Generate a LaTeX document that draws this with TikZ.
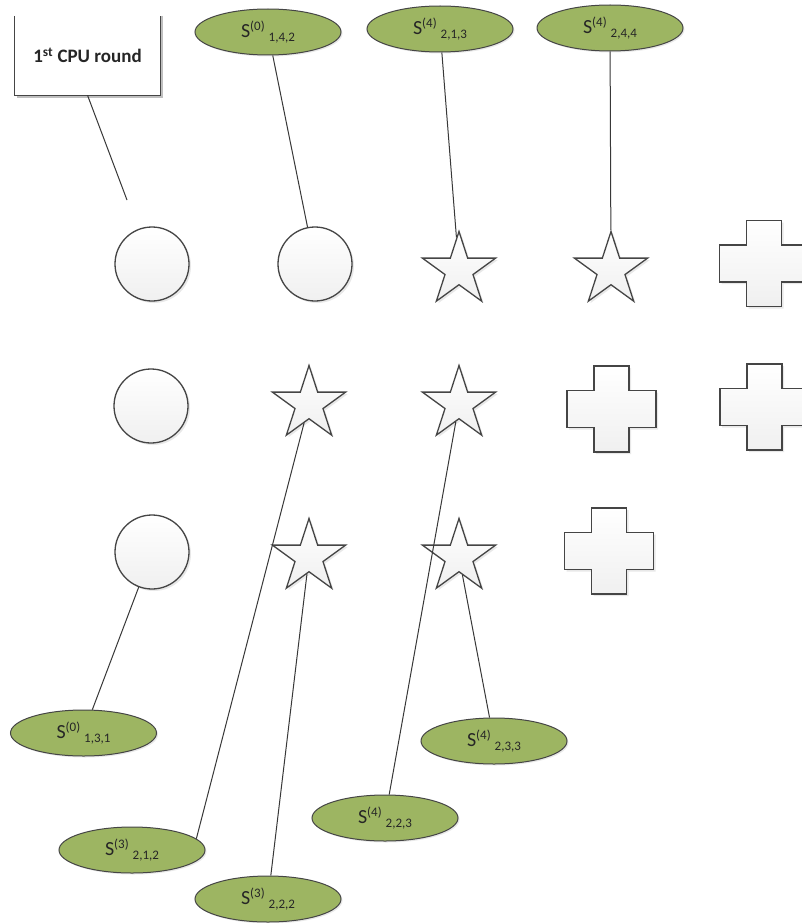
\documentclass[tikz,border=0pt]{standalone}
\usepackage{fontspec}
\setmainfont{Carlito}
\usetikzlibrary{shapes.geometric,shadows}
\definecolor{olivefill}{HTML}{9DB562}
\definecolor{edgec}{HTML}{454545}
\definecolor{linec}{HTML}{383838}
\newcommand{\slab}[2]{\fontsize{20}{20}\selectfont S\raisebox{7pt}{\fontsize{13}{13}\selectfont(#1)}\hspace{4pt}\raisebox{-4pt}{\fontsize{13}{13}\selectfont #2}}
\tikzset{
  shp/.style={draw=edgec, line width=1.3pt, top color=white, bottom color=black!6,
    drop shadow={opacity=0.18, shadow xshift=2pt, shadow yshift=-2pt}},
  circ/.style={shp, circle, minimum size=74pt, inner sep=0pt},
  starshape/.style={shp, star, star points=5, star point ratio=2.618, minimum size=77pt, inner sep=0pt},
  lbl/.style={ellipse, draw=edgec, line width=1pt, fill=olivefill, minimum width=146pt,
    minimum height=46pt, inner sep=0pt, text=black!85,
    drop shadow={opacity=0.18, shadow xshift=1.5pt, shadow yshift=-1.5pt}},
  conn/.style={draw=linec, line width=1pt},
  pics/plusshape/.style={code={
    \path[shp] (-17.5,-43) -- (17.5,-43) -- (17.5,-18.5) -- (44.5,-18.5) -- (44.5,18.5)
      -- (17.5,18.5) -- (17.5,43) -- (-17.5,43) -- (-17.5,18.5) -- (-44.5,18.5)
      -- (-44.5,-18.5) -- (-17.5,-18.5) -- cycle;}}
}
\begin{document}
\begin{tikzpicture}[x=1pt,y=-1pt]
\useasboundingbox[fill=white] (0,0) rectangle (801,923);

% callout box
\node[minimum width=145pt, minimum height=79pt, inner sep=0pt,
  font={\bfseries\fontsize{19}{19}\selectfont}, text=black!85] (cpubox) at (87.5,55.5)
  {1\textsuperscript{st} CPU round};
\draw[black!25, line width=1.5pt] ([xshift=2pt]cpubox.north east) -- ([xshift=2pt,yshift=-2pt]cpubox.south east) -- ([xshift=2pt,yshift=-2pt]cpubox.south west);
\draw[edgec, line width=1.2pt] (cpubox.north west) -- (cpubox.south west) -- (cpubox.south east) -- (cpubox.north east);
\coordinate (cpuend) at (127,200);

% circles
\node[circ] (c11) at (152,264) {};
\node[circ] (c12) at (315,264) {};
\node[circ] (c21) at (151,406) {};
\node[circ] (c31) at (152,552) {};

% stars
\node[starshape] (s13) at (459,270) {};
\node[starshape] (s14) at (611,270) {};
\node[starshape] (s22) at (309,404) {};
\node[starshape] (s23) at (459,404) {};
\node[starshape] (s32) at (309,557) {};
\node[starshape] (s33) at (459,557) {};

% crosses
\pic at (764,263.5) {plusshape};
\pic at (611.5,409) {plusshape};
\pic at (764.5,407) {plusshape};
\pic at (609,551) {plusshape};

% labels
\node[lbl] (e1) at (268,32) {\slab{0}{1,4,2}};
\node[lbl] (e2) at (440,29) {\slab{4}{2,1,3}};
\node[lbl] (e3) at (610,28) {\slab{4}{2,4,4}};
\node[lbl] (b1) at (83.5,733) {\slab{0}{1,3,1}};
\node[lbl] (b2) at (494,741) {\slab{4}{2,3,3}};
\node[lbl] (b3) at (385,818) {\slab{4}{2,2,3}};
\node[lbl] (b4) at (132,850) {\slab{3}{2,1,2}};
\node[lbl] (b5) at (268,899) {\slab{3}{2,2,2}};

% connectors
\draw[conn] (cpubox.south) -- (cpuend);
\draw[conn] (e1) -- (c12);
\draw[conn] (e2) -- (s13);
\draw[conn] (e3) -- (s14);
\draw[conn] (c31) -- (b1);
\draw[conn] (s22) -- (b4.10);
\draw[conn] (s32) -- (b5);
\draw[conn] (s23) -- (b3);
\draw[conn] (s33) -- (b2);
\end{tikzpicture}
\end{document}
